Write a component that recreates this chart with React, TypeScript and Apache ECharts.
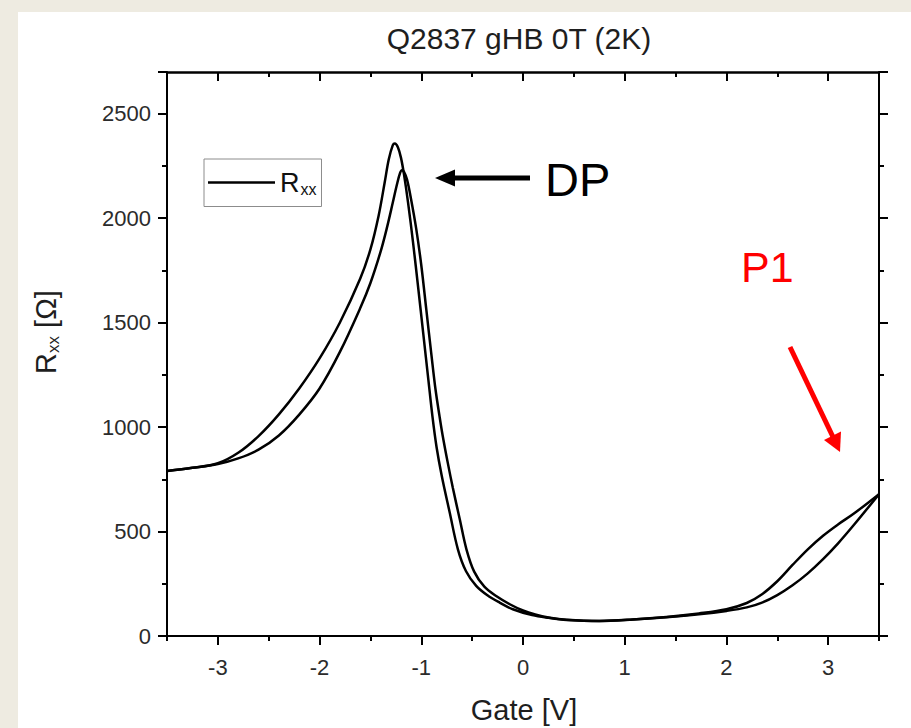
import React, { useEffect, useRef } from "react";
import * as echarts from "echarts";

// Sweep A (DP at about -1.27 V)
const gateA = [
  -3.5, -3.25, -3.0, -2.8, -2.6, -2.4, -2.2, -2.0, -1.8, -1.6, -1.5, -1.42, -1.36, -1.32,
  -1.28, -1.26, -1.23, -1.2, -1.17, -1.13, -1.08, -1.03, -0.98, -0.93, -0.89, -0.85, -0.8,
  -0.72, -0.64, -0.56, -0.46, -0.35, -0.23, -0.1, 0.09, 0.25, 0.43, 0.75, 1.08, 1.41, 1.73,
  2.0, 2.2, 2.35, 2.5, 2.65, 2.8, 2.95, 3.1, 3.25, 3.5,
];
const rxxA = [
  790, 805, 827, 877, 957, 1061, 1185, 1329, 1501, 1711, 1851, 2011, 2171, 2281,
  2350, 2358, 2340, 2290, 2210, 2075, 1880, 1665, 1445, 1225, 1050, 905, 770,
  590, 415, 310, 240, 195, 160, 128, 100, 87, 77, 72, 79, 91, 108,
  128, 158, 200, 262, 340, 415, 480, 535, 585, 679,
];

// Sweep B (DP at about -1.19 V)
const gateB = [
  -3.5, -3.25, -3.0, -2.8, -2.6, -2.4, -2.2, -2.0, -1.8, -1.6, -1.5, -1.4, -1.34, -1.28,
  -1.24, -1.21, -1.19, -1.17, -1.14, -1.1, -1.05, -1.0, -0.95, -0.9, -0.86, -0.82, -0.79,
  -0.74, -0.69, -0.62, -0.556, -0.48, -0.38, -0.26, -0.13, 0.0, 0.12, 0.25, 0.43, 0.75,
  1.08, 1.41, 1.73, 2.0, 2.2, 2.35, 2.5, 2.65, 2.8, 2.95, 3.1, 3.25, 3.5,
];
const rxxB = [
  790, 805, 823, 850, 892, 960, 1060, 1185, 1360, 1570, 1690, 1840, 1950, 2075,
  2160, 2215, 2230, 2222, 2185, 2090, 1950, 1775, 1560, 1345, 1180, 1050, 960,
  830, 710, 555, 415, 308, 236, 190, 152, 122, 103, 89, 78, 72,
  79, 90, 104, 120, 137, 160, 196, 243, 300, 368, 445, 530, 679,
];

const xMajorTicks = [-3, -2, -1, 0, 1, 2, 3];
const X_MIN = -3.5;
const X_MAX = 3.5;
const Y_MIN = 0;
const Y_MAX = 2700;
const Y_STEP = 500;

const TITLE = "Q2837 gHB 0T (2K)";
const SERIES_NAME = "Rxx";
const X_NAME = "Gate [V]";

const FONT = "'Liberation Sans', Arial, Helvetica, sans-serif";

export default function App() {
  const ref = useRef<HTMLDivElement>(null);

  useEffect(() => {
    if (!ref.current) return;
    const chart = echarts.init(ref.current, undefined, { renderer: "svg" });
    const axisLineStyle = { color: "#000", width: 2 };
    const tickStyle = { color: "#000", width: 2 };
    const labelStyle = { fontFamily: FONT, fontSize: 22, color: "#2b2b2b" };

    const option: any = {
      animation: false,
      grid: { left: 167, top: 72, right: 32, bottom: 92, containLabel: false },
      legend: {
        left: 204,
        top: 159,
        data: [SERIES_NAME],
        icon: "rect",
        itemWidth: 67,
        itemHeight: 2.5,
        padding: [10, 5, 9, 4],
        borderColor: "#8c8c8c",
        borderWidth: 1,
        backgroundColor: "#fff",
        selectedMode: false,
        formatter: () => "{r|R}{s|xx}",
        textStyle: {
          rich: {
            r: { fontFamily: FONT, fontSize: 27, color: "#111" },
            s: { fontFamily: FONT, fontSize: 16, color: "#111", padding: [14, 0, 0, 1] },
          },
        },
      },
      xAxis: [
        {
          type: "value",
          min: X_MIN,
          max: X_MAX,
          position: "bottom",
          axisLine: { show: true, onZero: false, lineStyle: axisLineStyle },
          axisTick: { show: true, customValues: xMajorTicks, length: 9, lineStyle: tickStyle },
          axisLabel: { customValues: xMajorTicks, margin: 20, ...labelStyle },
          splitLine: { show: false },
        },
        {
          type: "value",
          min: X_MIN,
          max: X_MAX,
          interval: 0.5,
          position: "bottom",
          axisLine: { show: false, onZero: false },
          axisTick: { show: true, length: 5, lineStyle: tickStyle },
          axisLabel: { show: false },
          splitLine: { show: false },
        },
        {
          type: "value",
          min: X_MIN,
          max: X_MAX,
          position: "top",
          axisLine: { show: true, onZero: false, lineStyle: { color: "#000", width: 2.5 } },
          axisTick: { show: true, inside: true, customValues: xMajorTicks, length: 9, lineStyle: tickStyle },
          axisLabel: { show: false },
          splitLine: { show: false },
        },
        {
          type: "value",
          min: X_MIN,
          max: X_MAX,
          interval: 0.5,
          position: "top",
          axisLine: { show: false, onZero: false },
          axisTick: { show: true, inside: true, length: 5, lineStyle: tickStyle },
          axisLabel: { show: false },
          splitLine: { show: false },
        },
      ],
      yAxis: [
        {
          type: "value",
          min: Y_MIN,
          max: Y_MAX,
          interval: Y_STEP,
          position: "left",
          axisLine: { show: true, onZero: false, lineStyle: axisLineStyle },
          axisTick: { show: true, length: 9, lineStyle: tickStyle },
          minorTick: { show: true, splitNumber: 2, length: 5, lineStyle: tickStyle },
          axisLabel: {
            margin: 16,
            showMaxLabel: false,
            formatter: (v: number) => String(v),
            ...labelStyle,
          },
          splitLine: { show: false },
          minorSplitLine: { show: false },
        },
        {
          type: "value",
          min: Y_MIN,
          max: Y_MAX,
          interval: Y_STEP,
          position: "right",
          axisLine: { show: true, onZero: false, lineStyle: axisLineStyle },
          axisTick: { show: true, length: 9, lineStyle: tickStyle },
          minorTick: { show: true, splitNumber: 2, length: 5, lineStyle: tickStyle },
          axisLabel: { show: false },
          splitLine: { show: false },
          minorSplitLine: { show: false },
        },
      ],
      series: [
        {
          name: SERIES_NAME,
          type: "line",
          xAxisIndex: 0,
          yAxisIndex: 0,
          data: gateA.map((g, i) => [g, rxxA[i]]),
          symbol: "none",
          smooth: 0.35,
          itemStyle: { color: "#000" },
          lineStyle: { color: "#000", width: 2.5 },
        },
        {
          name: SERIES_NAME,
          type: "line",
          xAxisIndex: 0,
          yAxisIndex: 0,
          data: gateB.map((g, i) => [g, rxxB[i]]),
          symbol: "none",
          smooth: 0.35,
          itemStyle: { color: "#000" },
          lineStyle: { color: "#000", width: 2.5 },
        },
      ],
      graphic: [
        {
          type: "text",
          x: 519,
          y: 38,
          style: {
            text: TITLE,
            fontFamily: FONT,
            fontSize: 30,
            fill: "#1e1e1e",
            align: "center",
            verticalAlign: "middle",
          },
        },
        {
          type: "text",
          x: 524,
          y: 710,
          style: {
            text: X_NAME,
            fontFamily: FONT,
            fontSize: 29,
            fill: "#1e1e1e",
            align: "center",
            verticalAlign: "middle",
          },
        },
        {
          type: "text",
          x: 46,
          y: 332,
          rotation: Math.PI / 2,
          style: {
            text: "{r|R}{s|xx}{r| [Ω]}",
            align: "center",
            verticalAlign: "middle",
            rich: {
              r: { fontFamily: FONT, fontSize: 29, fill: "#1e1e1e" },
              s: { fontFamily: FONT, fontSize: 17, fill: "#1e1e1e", padding: [14, 0, 0, 0] },
            },
          },
        },
        {
          type: "line",
          shape: { x1: 530, y1: 178, x2: 452, y2: 178 },
          style: { stroke: "#000", lineWidth: 5 },
        },
        {
          type: "polygon",
          shape: { points: [[435, 178], [455, 169.5], [455, 186.5]] },
          style: { fill: "#000" },
        },
        {
          type: "text",
          x: 545,
          y: 179,
          style: {
            text: "DP",
            fontFamily: FONT,
            fontSize: 47,
            fill: "#000",
            align: "left",
            verticalAlign: "middle",
          },
        },
        {
          type: "text",
          x: 741,
          y: 267,
          style: {
            text: "P1",
            fontFamily: FONT,
            fontSize: 43,
            fill: "#ff0000",
            align: "left",
            verticalAlign: "middle",
          },
        },
        {
          type: "line",
          shape: { x1: 790, y1: 347, x2: 833, y2: 437 },
          style: { stroke: "#ff0000", lineWidth: 5 },
        },
        {
          type: "polygon",
          shape: { points: [[840, 452], [824, 440], [841, 431.5]] },
          style: { fill: "#ff0000" },
        },
      ],
    };

    chart.setOption(option);
    return () => chart.dispose();
  }, []);

  return (
    <div style={{ position: "fixed", left: 0, top: 0, width: 911, height: 728, background: "#eeebe1" }}>
      <div style={{ position: "absolute", left: 18, top: 12, right: 0, bottom: 0, background: "#fff" }} />
      <div ref={ref} style={{ position: "absolute", left: 0, top: 0, width: 911, height: 728 }} />
    </div>
  );
}
